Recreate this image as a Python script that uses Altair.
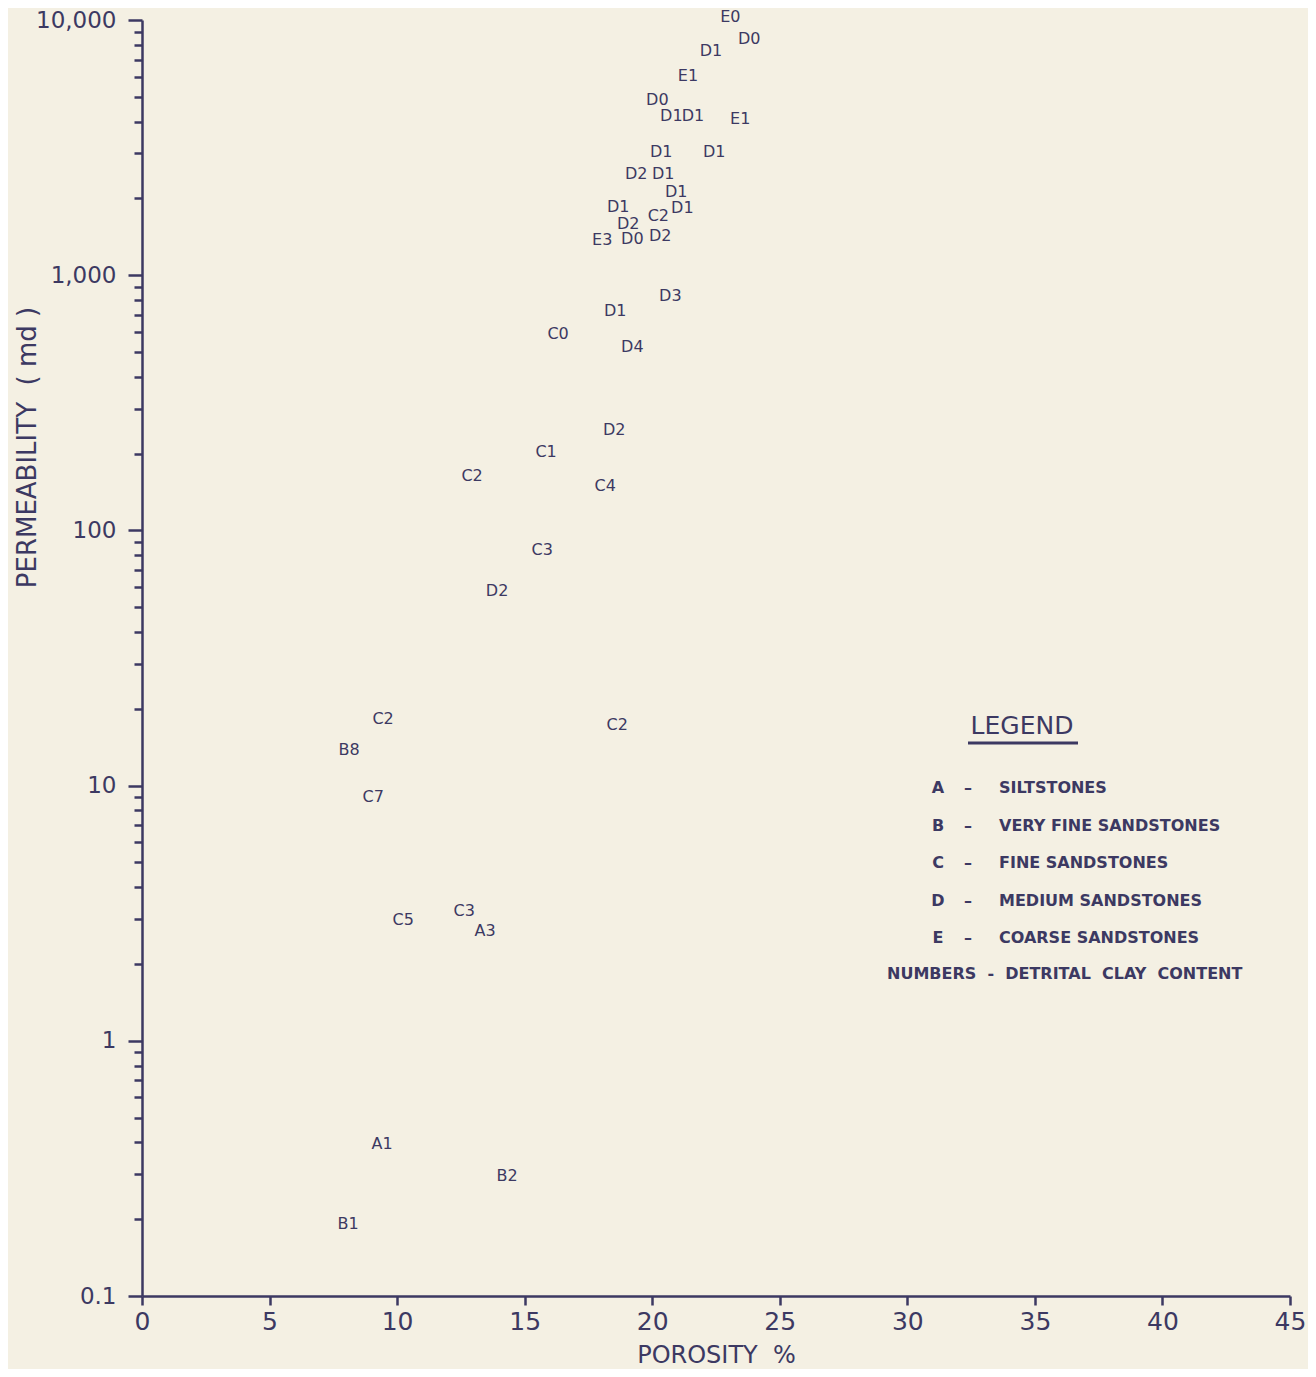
import altair as alt
import pandas as pd

# ---- data ----
codes = ["E0", "D0", "D1", "E1", "D0", "D1", "D1", "E1", "D1", "D1",
         "D2", "D1", "D1", "D1", "D1", "C2", "D2", "E3", "D0", "D2",
         "D3", "D1", "C0", "D4", "D2", "C1", "C2", "C4", "C3", "D2",
         "C2", "C2", "B8", "C7", "C5", "C3", "A3", "A1", "B2", "B1"]
porosity = [23.06, 23.8, 22.3, 21.4, 20.2, 20.75, 21.6, 23.45, 20.35, 22.43,
            19.37, 20.43, 20.94, 18.67, 21.18, 20.24, 19.06, 18.04, 19.22, 20.31,
            20.71, 18.55, 16.31, 19.22, 18.51, 15.84, 12.94, 18.16, 15.69, 13.92,
            9.45, 18.63, 8.12, 9.06, 10.24, 12.63, 13.45, 9.41, 14.31, 8.08]
permeability = [10300, 8400, 7550, 6030, 4850, 4200, 4200, 4090, 3035, 3035,
                2490, 2490, 2115, 1848, 1832, 1703, 1585, 1372, 1383, 1422,
                828, 722, 588, 522, 247, 202, 163, 149, 83.6, 57.7,
                18.2, 17.3, 13.8, 9.05, 2.98, 3.24, 2.70, 0.394, 0.296, 0.191]

x_ticks = [0, 5, 10, 15, 20, 25, 30, 35, 40, 45]
y_major = [0.1, 1, 10, 100, 1000, 10000]
y_ticks = [m * 10.0 ** e for e in range(-1, 4) for m in range(1, 10)] + [10000]

legend_codes = ["A", "B", "C", "D", "E"]
legend_desc = ["SILTSTONES", "VERY FINE SANDSTONES", "FINE SANDSTONES",
               "MEDIUM SANDSTONES", "COARSE SANDSTONES"]
legend_note = "NUMBERS\u00a0\u00a0-\u00a0\u00a0DETRITAL\u00a0\u00a0CLAY\u00a0\u00a0CONTENT"

INK = "#3c3962"
BG = "#f4f0e3"
FONT = "DejaVu Sans"

df = pd.DataFrame({"code": codes, "porosity": porosity, "perm": permeability})

major_test = "indexof([0.1, 1, 10, 100, 1000, 10000], datum.value) >= 0"

x_enc = alt.X("porosity:Q",
              scale=alt.Scale(domain=[0, 45], nice=False, zero=False),
              axis=alt.Axis(values=x_ticks, title="POROSITY\u00a0\u00a0%", grid=False,
                            domainColor=INK, domainWidth=2.5, tickColor=INK,
                            tickWidth=2.5, tickSize=9, labelPadding=4,
                            labelFontSize=25, labelColor=INK, labelFont=FONT,
                            titleFont=FONT, titleFontSize=24, titleFontWeight="normal",
                            titleColor=INK, titleY=66, titleBaseline="alphabetic",
                            labelFlush=False, labelOverlap=False))
y_enc = alt.Y("perm:Q",
              scale=alt.Scale(type="log", domain=[0.1, 10000], nice=False),
              axis=alt.Axis(values=y_ticks,
                            title="PERMEABILITY\u00a0\u00a0(\u00a0md\u00a0)", grid=False,
                            labelExpr=major_test + " ? format(datum.value, ',') : ''",
                            domainColor=INK, domainWidth=2.5, tickColor=INK,
                            tickWidth=2.5,
                            tickSize={"condition": {"test": major_test, "value": 14},
                                      "value": 8},
                            labelPadding=12, labelFontSize=23, labelColor=INK,
                            labelFont=FONT, labelOverlap=False, labelFlush=False,
                            titleFont=FONT, titleFontSize=26, titleFontWeight="normal",
                            titleColor=INK, titleAngle=-90, titleX=-115, titleY=427,
                            titleBaseline="middle", titleAlign="center"))

points = alt.Chart(df).mark_text(
    font=FONT, fontSize=16, color=INK, align="center", baseline="middle"
).encode(x=x_enc, y=y_enc, text="code:N")

layers = [points]

# legend heading and underline
layers.append(alt.Chart(pd.DataFrame({"t": ["LEGEND"]})).mark_text(
    font=FONT, fontSize=25, color=INK, align="center", baseline="middle"
).encode(x=alt.value(880), y=alt.value(706), text="t:N"))
layers.append(alt.Chart(pd.DataFrame({"t": [0]})).mark_rule(
    color=INK, strokeWidth=3
).encode(x=alt.value(826), x2=alt.value(936), y=alt.value(723)))

for i, (c, d) in enumerate(zip(legend_codes, legend_desc)):
    yy = 768 + i * 37.5
    row = pd.DataFrame({"c": [c], "d": [d]})
    layers.append(alt.Chart(row).mark_text(
        font=FONT, fontSize=16, fontWeight="bold", color=INK,
        align="center", baseline="middle"
    ).encode(x=alt.value(796), y=alt.value(yy), text="c:N"))
    layers.append(alt.Chart(row).mark_text(
        font=FONT, fontSize=16, fontWeight="bold", color=INK,
        align="center", baseline="middle"
    ).encode(x=alt.value(826), y=alt.value(yy), text=alt.value("\u2013")))
    layers.append(alt.Chart(row).mark_text(
        font=FONT, fontSize=16, fontWeight="bold", color=INK,
        align="left", baseline="middle"
    ).encode(x=alt.value(857), y=alt.value(yy), text="d:N"))

layers.append(alt.Chart(pd.DataFrame({"t": [legend_note]})).mark_text(
    font=FONT, fontSize=16, fontWeight="bold", color=INK,
    align="left", baseline="middle"
).encode(x=alt.value(745), y=alt.value(954), text="t:N"))

chart = alt.layer(*layers).properties(
    width=1148, height=1276,
    autosize=alt.AutoSizeParams(type="none"),
    padding={"left": 134, "top": 12, "right": 18, "bottom": 73},
    background=BG,
).configure_view(stroke=None)

chart.save("out.html", embed_options={"renderer": "svg", "actions": False})
